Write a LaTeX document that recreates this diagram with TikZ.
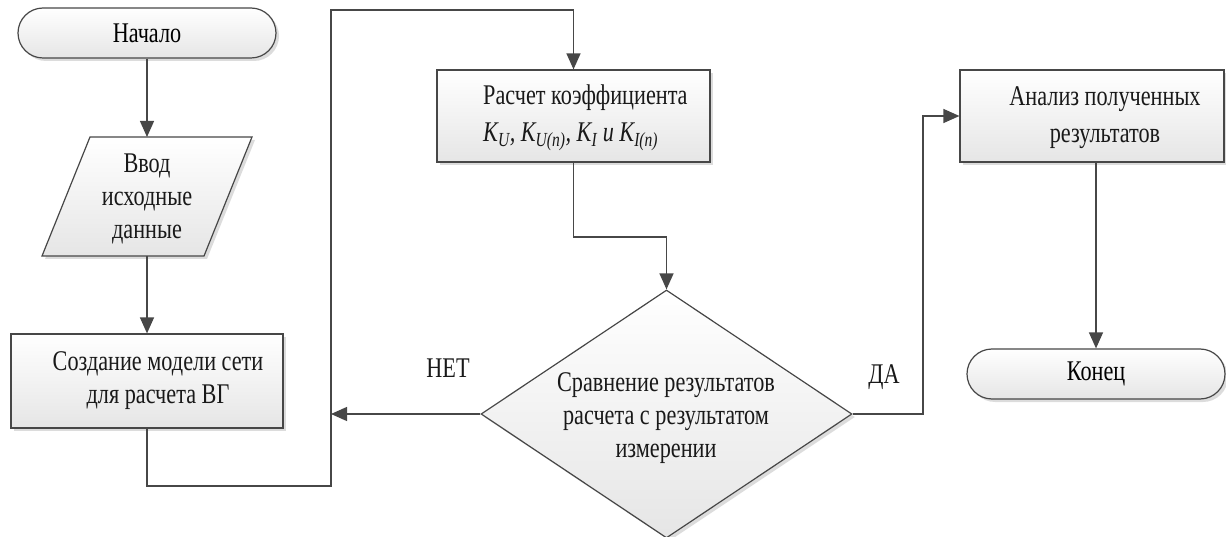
\documentclass[tikz,border=0pt]{standalone}
\usepackage{fontspec}
\setmainfont{Liberation Serif}[FakeStretch=0.78]
\usetikzlibrary{arrows.meta,shapes.geometric,shapes.misc,shadows}
\definecolor{lineg}{HTML}{474747}
\begin{document}
\begin{tikzpicture}[x=1pt,y=-1pt,
  font=\fontsize{28.5pt}{33pt}\selectfont,
  conn/.style={draw=lineg, line width=1.3pt},
  arr/.style={conn, -{Triangle[length=16pt,width=14pt]}},
  shaded/.style={top color=white, bottom color=black!10, draw=lineg, line width=1.2pt,
    drop shadow={shadow xshift=3pt, shadow yshift=-3pt, fill=black!30, opacity=.45}},
  procbox/.style={shaded, rectangle, inner sep=0pt},
  termbox/.style={shaded, rounded rectangle, inner sep=0pt, minimum width=258pt, minimum height=50pt},
  decbox/.style={shaded, diamond, inner sep=0pt, minimum width=371pt, minimum height=248pt},
  txt/.style={align=center, inner sep=0pt, text=black!90},
  lbl/.style={inner sep=0pt, text=black!90}
]
\useasboundingbox (0,0) rectangle (1226,537);

% start and end terminators
\node[termbox] (start) at (147,33) {Начало};
\node[termbox] (stop) at (1096,374) {Конец};

% input parallelogram
\path[shaded] (90,137) -- (252,137) -- (204,256) -- (42,256) -- cycle;
\coordinate (ptop) at (147,137);
\coordinate (pbot) at (147,256);
\node[txt] (input) at (147,199) {Ввод\\исходные\\данные};

% process boxes
\node[procbox, minimum width=272pt, minimum height=94pt] (model) at (147,381) {};
\node[txt] (modeltxt) at (158,381) {Создание модели сети\\для расчета ВГ};

\node[procbox, minimum width=273pt, minimum height=92pt] (calc) at (573.5,116) {};
\node[txt, align=left, anchor=west, font=\fontsize{28.5pt}{37pt}\selectfont] (calctxt) at (483,118)
  {Расчет коэффициента\\ \itshape K\textsubscript{U}, K\textsubscript{U(n)}, K\textsubscript{I} и K\textsubscript{I(n)}};

\node[procbox, minimum width=264pt, minimum height=92pt] (anal) at (1092,116) {};
\node[txt, font=\fontsize{28.5pt}{37pt}\selectfont] (analtxt) at (1105,118) {Анализ полученных\\результатов};

% decision
\node[decbox] (dec) at (666.5,414) {};
\node[txt] (dectxt) at (666,418) {Сравнение результатов\\расчета с результатом\\измерении};

% routing points
\coordinate (loopB) at (331,486);
\coordinate (loopT) at (331,10);
\coordinate (mid) at (0,237);
\coordinate (daX) at (923,0);

% connectors
\draw[arr] (start.south -| ptop) -- (ptop);
\draw[arr] (pbot) -- (model.north);
\draw[arr] (model.south) |- (loopB) -- (loopT) -| (calc.north);
\draw[arr] (calc.south) -- (calc.south |- mid) -| (dec.north);
\draw[arr] (dec.west) -- (dec.west -| loopB);
\draw[arr] (dec.east) -| (daX |- anal.west) -- (anal.west);
\draw[arr] (stop.north |- anal.south) -- (stop.north);

% branch labels
\node[lbl] (no) at (448,368) {НЕТ};
\node[lbl] (yes) at (884,377) {ДА};
\end{tikzpicture}
\end{document}
